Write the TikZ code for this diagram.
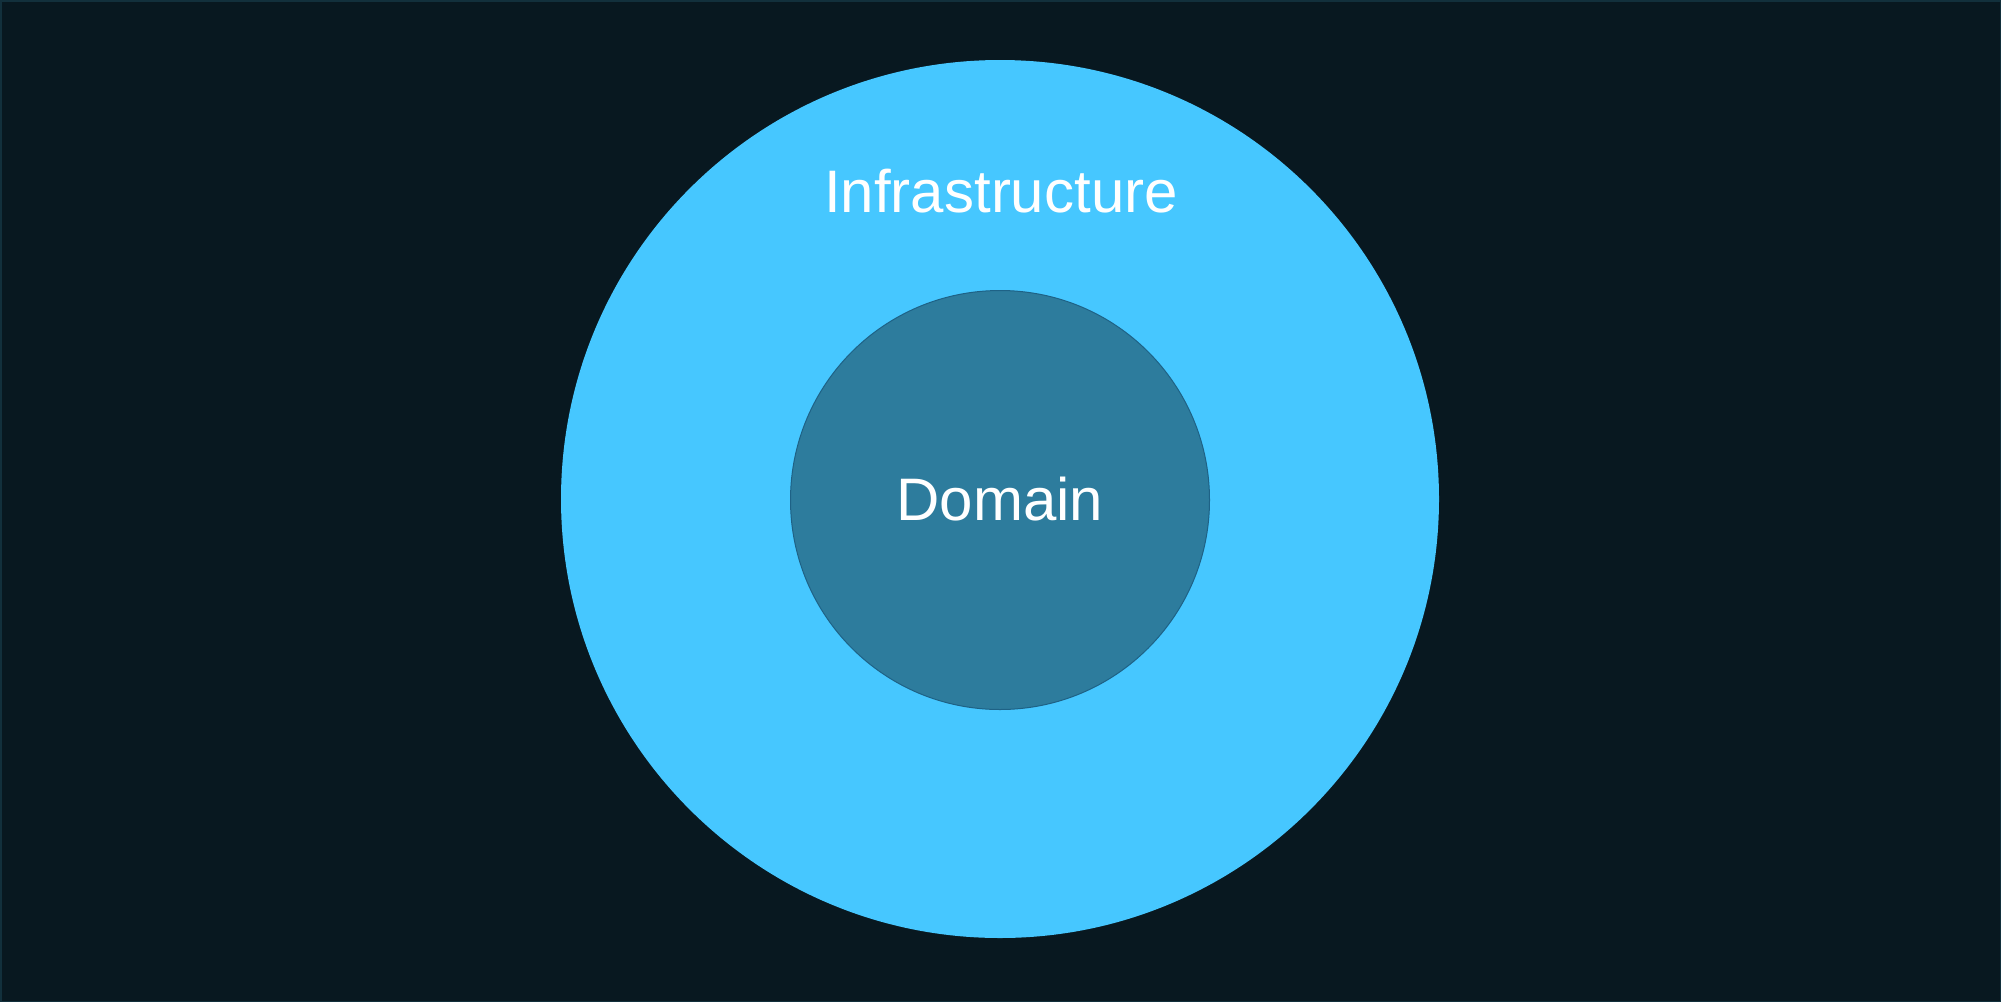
\documentclass[tikz,border=0pt]{standalone}
\usepackage{fontspec}
\setmainfont{Liberation Sans}
\definecolor{bgdark}{HTML}{081820}
\definecolor{bgedge}{HTML}{12303C}
\definecolor{infra}{HTML}{46C7FF}
\definecolor{domain}{HTML}{2D7C9D}
\definecolor{domainedge}{HTML}{1E6286}
\tikzset{
  layer/.style={circle, inner sep=0pt},
  label/.style={text=white, inner sep=0pt, anchor=base, font=\fontsize{60}{72}\selectfont}
}
\begin{document}
\begin{tikzpicture}[x=1pt,y=-1pt]
  \useasboundingbox (0,0) rectangle (2001,1002);
  \fill[bgdark] (0,0) rectangle (2001,1002);
  \draw[bgedge, line width=1.5pt] (0.75,0.75) rectangle (2000.25,1001.25);
  % outer ring
  \node[layer, fill=infra, minimum size=878pt] (infra) at (1000,499) {};
  % inner core
  \node[layer, fill=domain, draw=domainedge, line width=1pt, minimum size=419pt] (core) at (1000,500) {};
  \node[label] (infratext) at (1001,212.7) {Infrastructure};
  \node[label] (coretext) at (1000,520) {Domain};
\end{tikzpicture}
\end{document}
